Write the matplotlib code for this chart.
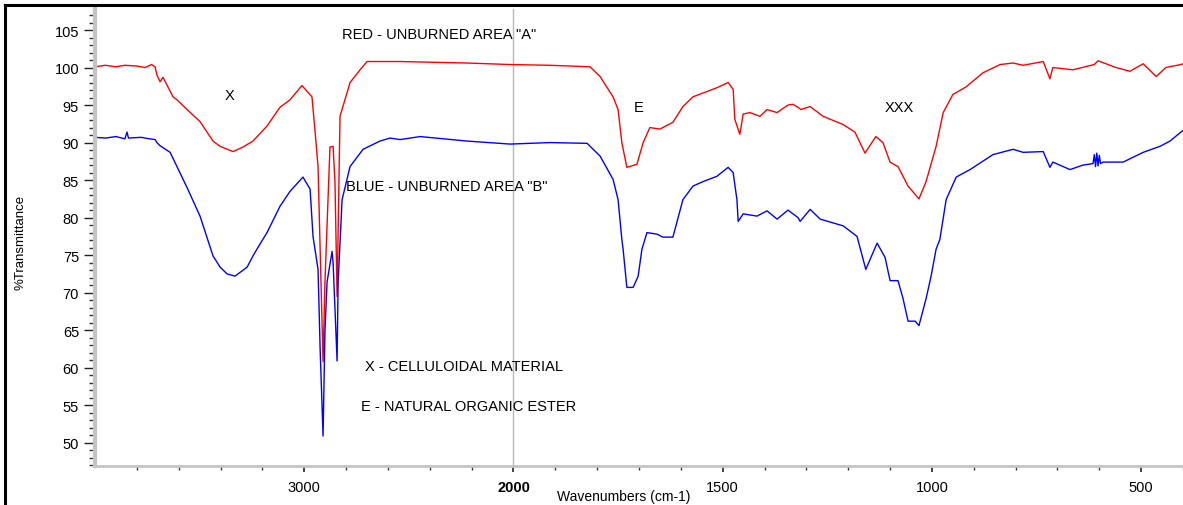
import numpy as np
import matplotlib
matplotlib.use('Agg')
import matplotlib.pyplot as plt
from matplotlib.lines import Line2D
from matplotlib.ticker import FixedLocator

plt.rcParams['font.family'] = ['Liberation Sans', 'DejaVu Sans']

# red spectrum - unburned area "A"
red_wn = [4000, 3950, 3900, 3857, 3800, 3760, 3730, 3713, 3704, 3689, 3675, 3627, 3608,
          3560, 3498, 3436, 3402, 3340, 3293, 3245, 3178, 3116, 3068, 3011, 2963, 2948,
          2934, 2924, 2910, 2901, 2877,
          2862, 2853, 2843, 2838, 2829, 2781, 2733, 2700, 2542, 2222, 2016, 1913, 1817,
          1793, 1762, 1750, 1741, 1729, 1705, 1690, 1674, 1650, 1619, 1595, 1571, 1514,
          1487, 1475, 1471, 1459, 1451, 1435, 1411, 1394, 1370, 1344, 1332, 1320, 1313,
          1291, 1260, 1212, 1184, 1160, 1134, 1117, 1100, 1081, 1057, 1031, 1014, 990,
          973, 950, 919, 878, 837, 806, 782, 734, 718, 711, 663, 612, 603, 560, 527, 495,
          464, 441, 405, 400]
red_t = [100.1, 100.3, 100.1, 100.3, 100.2, 100.0, 100.4, 100.1, 99.0, 98.1, 98.7, 96.1, 95.7,
         94.4, 92.8, 90.2, 89.5, 88.8, 89.4, 90.2, 92.2, 94.7, 95.7, 97.6, 96.1, 91.4,
         86.8, 75.8, 60.8, 71.4, 89.4,
         89.5, 84.7, 69.5, 78.0, 93.5, 98.0, 99.7, 100.8, 100.8, 100.6, 100.4, 100.3, 100.1,
         98.8, 96.1, 94.4, 90.0, 86.7, 87.1, 90.0, 92.0, 91.8, 92.7, 94.8, 96.1, 97.3,
         98.0, 97.1, 93.1, 91.1, 93.8, 94.0, 93.5, 94.4, 94.0, 95.0, 95.1, 94.7, 94.4,
         94.8, 93.5, 92.4, 91.4, 88.6, 90.8, 90.0, 87.4, 86.8, 84.2, 82.5, 84.8, 89.5,
         94.0, 96.4, 97.4, 99.3, 100.4, 100.6, 100.3, 100.8, 98.5, 100.0, 99.7, 100.4, 100.9, 100.0, 99.5, 100.5,
         98.8, 100.0, 100.4, 100.5]

# blue spectrum - unburned area "B"
blue_wn = [4000, 3950, 3900, 3857, 3847, 3840, 3780, 3740, 3713, 3704, 3690, 3641, 3579,
           3560, 3498, 3436, 3402, 3369, 3331, 3273, 3245, 3226, 3178, 3116, 3068, 3006,
           2972, 2958, 2934, 2924,
           2910, 2901, 2891, 2867, 2862, 2843, 2838, 2819, 2781, 2719, 2638, 2590, 2542,
           2446, 2222, 2016, 1913, 1824, 1793, 1762, 1750, 1741, 1738, 1729, 1714, 1702,
           1693, 1681, 1657, 1643, 1619, 1595, 1571, 1547, 1514, 1487, 1475, 1466, 1463,
           1451, 1418, 1394, 1370, 1344, 1320, 1315, 1291, 1267, 1212, 1179, 1158, 1131,
           1112, 1100, 1081, 1069, 1057, 1040, 1031, 1014, 1002, 990, 981, 966, 942, 909,
           854, 806, 782, 734, 718, 711, 670, 639, 615, 612, 609, 606, 603, 600, 597, 591,
           543, 495, 455, 431, 405, 400]
blue_t = [90.7, 90.6, 90.8, 90.5, 91.4, 90.6, 90.7, 90.5, 90.4, 90.0, 89.6, 88.7, 85.1,
          84.0, 80.2, 74.9, 73.4, 72.5, 72.2, 73.4, 74.9, 75.8, 78.0, 81.5, 83.5, 85.4,
          83.8, 77.5, 73.1, 62.5,
          50.9, 64.8, 71.4, 75.5, 74.0, 60.9, 71.4, 82.4, 86.8, 89.1, 90.2, 90.6, 90.4,
          90.8, 90.2, 89.8, 90.0, 89.9, 88.2, 85.1, 82.4, 77.1, 75.8, 70.7, 70.7, 72.2,
          75.8, 78.0, 77.8, 77.4, 77.4, 82.4, 84.2, 84.8, 85.5, 86.7, 86.0, 82.4, 79.5,
          80.5, 80.2, 80.9, 79.8, 81.0, 80.0, 79.5, 81.1, 79.8, 78.9, 77.5, 73.1, 76.6,
          74.7, 71.6, 71.6, 69.2, 66.2, 66.2, 65.6, 69.2, 72.2, 75.8, 77.1, 82.4, 85.4, 86.4,
          88.4, 89.1, 88.7, 88.8, 86.7, 87.4, 86.4, 87.0, 87.2, 88.4, 86.8, 88.6, 86.9, 88.3, 87.2, 87.4,
          87.4, 88.7, 89.5, 90.2, 91.4, 91.6]

major_ticks = [3000, 2000, 1500, 1000, 500]
minor_ticks = [3800, 3600, 3400, 3200, 2800, 2600, 2400, 2200,
               1900, 1800, 1700, 1600, 1400, 1300, 1200, 1100,
               900, 800, 700, 600, 400]

# x scale expanded 2x below 2000 cm-1
K = 2.0
def fwd(w):
    w = np.asarray(w, dtype=float)
    return np.where(w >= 2000, w, 2000 - (2000 - w) * K)

def inv(t):
    t = np.asarray(t, dtype=float)
    return np.where(t >= 2000, t, 2000 - (2000 - t) / K)

fig = plt.figure(figsize=(11.83, 5.06), dpi=100)
ax = fig.add_axes([95 / 1183, 1 - 467 / 506, 1 - 95 / 1183, (467 - 10) / 506])
ax.set_xscale('function', functions=(fwd, inv))

ax.axvline(2000, color='#b8b8b8', lw=1.0, zorder=0)
ax.plot(red_wn, red_t, color='#ff0000', lw=1.0)
ax.plot(blue_wn, blue_t, color='#0000ff', lw=1.0)

ax.set_xlim(4000, 400)
ax.set_ylim(46.9, 107.8)

ax.xaxis.set_major_locator(FixedLocator(major_ticks))
ax.xaxis.set_minor_locator(FixedLocator(minor_ticks))
ax.set_xticklabels([str(v) for v in major_ticks])
for lab in ax.get_xticklabels():
    if lab.get_text() == '2000':
        lab.set_fontweight('bold')
ax.set_yticks(np.arange(50, 106, 5))
ax.set_yticks(np.arange(47, 108, 1), minor=True)

ax.tick_params(axis='both', which='major', labelsize=10.5, color='#222222')
ax.tick_params(axis='y', which='major', length=8, width=1)
ax.tick_params(axis='y', which='minor', length=4, width=1, color='#333333')
ax.tick_params(axis='x', which='major', length=4, width=1.2, pad=6)
ax.tick_params(axis='x', which='minor', length=3, width=1, color='#333333')

for s in ['top', 'right']:
    ax.spines[s].set_visible(False)
ax.spines['left'].set_color('#c4c4c4')
ax.spines['left'].set_linewidth(3)
ax.spines['bottom'].set_color('#c4c4c4')
ax.spines['bottom'].set_linewidth(2)

fs = 10.5
ax.text(2819, 104.5, 'RED - UNBURNED AREA "A"', fontsize=fs, va='center')
ax.text(2800, 84.2, 'BLUE - UNBURNED AREA "B"', fontsize=fs, va='center')
ax.text(2709, 60.2, 'X - CELLULOIDAL MATERIAL', fontsize=fs, va='center')
ax.text(2729, 54.9, 'E - NATURAL ORGANIC ESTER', fontsize=fs, va='center')
ax.text(3359, 96.4, 'X', fontsize=10.5, va='center', ha='center')
ax.text(1702, 94.8, 'E', fontsize=10.5, va='center', ha='center')
ax.text(1079, 94.7, 'XXX', fontsize=10.5, va='center', ha='center')

fig.text(624 / 1183, 1 - 497 / 506, 'Wavenumbers (cm-1)', fontsize=10, ha='center', va='center')
fig.text(20 / 1183, 1 - 242 / 506, '%Transmittance', fontsize=9.5, rotation=90,
         ha='center', va='center')

# black frame of the cropped page
fig.add_artist(Line2D([5 / 1183, 5 / 1183], [0, 1 - 6 / 506], color='black', lw=2.2,
                      transform=fig.transFigure))
fig.add_artist(Line2D([5 / 1183, 1], [1 - 6 / 506, 1 - 6 / 506], color='black', lw=2.2,
                      transform=fig.transFigure))

fig.savefig('out.png', dpi=100)
